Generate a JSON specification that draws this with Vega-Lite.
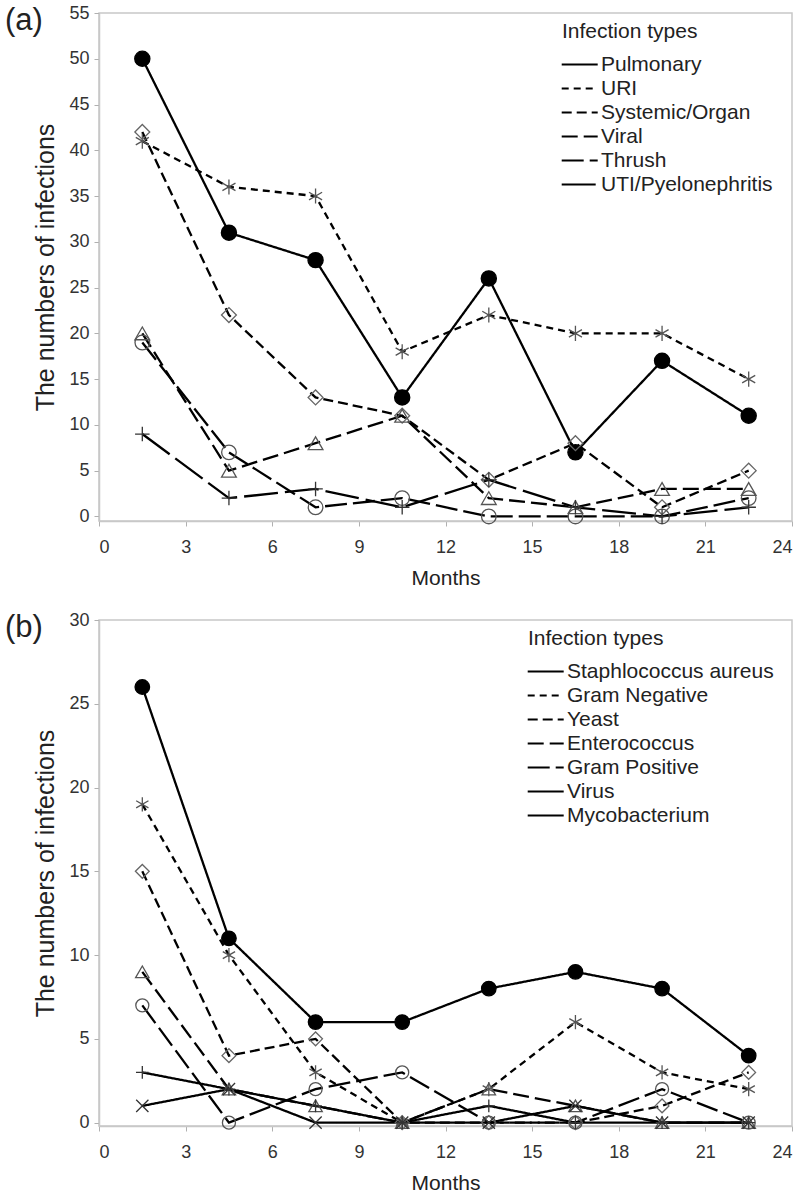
{
  "$schema": "https://vega.github.io/schema/vega-lite/v6.json",
  "background": "white",
  "padding": {"left": 4, "top": 3, "right": 10, "bottom": 4},
  "spacing": 21,
  "resolve": {
    "scale": {"shape": "independent", "size": "independent", "fill": "independent", "stroke": "independent", "strokeDash": "independent", "x": "independent", "y": "independent"},
    "legend": {"strokeDash": "independent", "shape": "independent", "size": "independent", "fill": "independent", "stroke": "independent"}
  },
  "config": {
    "font": "Liberation Sans",
    "view": {"stroke": "#c8c8c8", "strokeWidth": 1.5},
    "axis": {
      "grid": false,
      "domainColor": "#c8c8c8",
      "domainWidth": 1.5,
      "tickColor": "#b0b0b0",
      "tickSize": 5,
      "labelFontSize": 18,
      "labelColor": "#333",
      "labelPadding": 5,
      "titleFontSize": 25,
      "titleFontWeight": "normal",
      "titleColor": "#222"
    },
    "axisX": {"titlePadding": 11, "labelPadding": 12, "titleFontSize": 21},
    "axisY": {"titlePadding": 10},
    "legend": {
      "orient": "none",
      "legendY": 8,
      "titleFontSize": 21,
      "titleFontWeight": "normal",
      "titleColor": "#222",
      "titlePadding": 12,
      "labelFontSize": 21,
      "labelColor": "#222",
      "labelOffset": 18,
      "labelLimit": 400,
      "symbolType": "M-1.8,0L4.2,0",
      "symbolSize": 144,
      "symbolStrokeWidth": 2.2,
      "symbolStrokeColor": "black",
      "symbolFillColor": "transparent",
      "rowPadding": 2
    },
    "title": {"fontSize": 31, "fontWeight": "normal", "color": "#222", "anchor": "start", "frame": "bounds"}
  },
  "datasets": {
    "a": [
      {"series": "Pulmonary", "month": 1.5, "n": 50}, {"series": "Pulmonary", "month": 4.5, "n": 31}, {"series": "Pulmonary", "month": 7.5, "n": 28}, {"series": "Pulmonary", "month": 10.5, "n": 13}, {"series": "Pulmonary", "month": 13.5, "n": 26}, {"series": "Pulmonary", "month": 16.5, "n": 7}, {"series": "Pulmonary", "month": 19.5, "n": 17}, {"series": "Pulmonary", "month": 22.5, "n": 11},
      {"series": "URI", "month": 1.5, "n": 41}, {"series": "URI", "month": 4.5, "n": 36}, {"series": "URI", "month": 7.5, "n": 35}, {"series": "URI", "month": 10.5, "n": 18}, {"series": "URI", "month": 13.5, "n": 22}, {"series": "URI", "month": 16.5, "n": 20}, {"series": "URI", "month": 19.5, "n": 20}, {"series": "URI", "month": 22.5, "n": 15},
      {"series": "Systemic/Organ", "month": 1.5, "n": 42}, {"series": "Systemic/Organ", "month": 4.5, "n": 22}, {"series": "Systemic/Organ", "month": 7.5, "n": 13}, {"series": "Systemic/Organ", "month": 10.5, "n": 11}, {"series": "Systemic/Organ", "month": 13.5, "n": 4}, {"series": "Systemic/Organ", "month": 16.5, "n": 8}, {"series": "Systemic/Organ", "month": 19.5, "n": 1}, {"series": "Systemic/Organ", "month": 22.5, "n": 5},
      {"series": "Viral", "month": 1.5, "n": 20}, {"series": "Viral", "month": 4.5, "n": 5}, {"series": "Viral", "month": 7.5, "n": 8}, {"series": "Viral", "month": 10.5, "n": 11}, {"series": "Viral", "month": 13.5, "n": 2}, {"series": "Viral", "month": 16.5, "n": 1}, {"series": "Viral", "month": 19.5, "n": 3}, {"series": "Viral", "month": 22.5, "n": 3},
      {"series": "Thrush", "month": 1.5, "n": 19}, {"series": "Thrush", "month": 4.5, "n": 7}, {"series": "Thrush", "month": 7.5, "n": 1}, {"series": "Thrush", "month": 10.5, "n": 2}, {"series": "Thrush", "month": 13.5, "n": 0}, {"series": "Thrush", "month": 16.5, "n": 0}, {"series": "Thrush", "month": 19.5, "n": 0}, {"series": "Thrush", "month": 22.5, "n": 2},
      {"series": "UTI/Pyelonephritis", "month": 1.5, "n": 9}, {"series": "UTI/Pyelonephritis", "month": 4.5, "n": 2}, {"series": "UTI/Pyelonephritis", "month": 7.5, "n": 3}, {"series": "UTI/Pyelonephritis", "month": 10.5, "n": 1}, {"series": "UTI/Pyelonephritis", "month": 13.5, "n": 4}, {"series": "UTI/Pyelonephritis", "month": 16.5, "n": 1}, {"series": "UTI/Pyelonephritis", "month": 19.5, "n": 0}, {"series": "UTI/Pyelonephritis", "month": 22.5, "n": 1}
    ],
    "b": [
      {"series": "Staphlococcus aureus", "month": 1.5, "n": 26}, {"series": "Staphlococcus aureus", "month": 4.5, "n": 11}, {"series": "Staphlococcus aureus", "month": 7.5, "n": 6}, {"series": "Staphlococcus aureus", "month": 10.5, "n": 6}, {"series": "Staphlococcus aureus", "month": 13.5, "n": 8}, {"series": "Staphlococcus aureus", "month": 16.5, "n": 9}, {"series": "Staphlococcus aureus", "month": 19.5, "n": 8}, {"series": "Staphlococcus aureus", "month": 22.5, "n": 4},
      {"series": "Gram Negative", "month": 1.5, "n": 19}, {"series": "Gram Negative", "month": 4.5, "n": 10}, {"series": "Gram Negative", "month": 7.5, "n": 3}, {"series": "Gram Negative", "month": 10.5, "n": 0}, {"series": "Gram Negative", "month": 13.5, "n": 2}, {"series": "Gram Negative", "month": 16.5, "n": 6}, {"series": "Gram Negative", "month": 19.5, "n": 3}, {"series": "Gram Negative", "month": 22.5, "n": 2},
      {"series": "Yeast", "month": 1.5, "n": 15}, {"series": "Yeast", "month": 4.5, "n": 4}, {"series": "Yeast", "month": 7.5, "n": 5}, {"series": "Yeast", "month": 10.5, "n": 0}, {"series": "Yeast", "month": 13.5, "n": 0}, {"series": "Yeast", "month": 16.5, "n": 0}, {"series": "Yeast", "month": 19.5, "n": 1}, {"series": "Yeast", "month": 22.5, "n": 3},
      {"series": "Enterococcus", "month": 1.5, "n": 9}, {"series": "Enterococcus", "month": 4.5, "n": 2}, {"series": "Enterococcus", "month": 7.5, "n": 1}, {"series": "Enterococcus", "month": 10.5, "n": 0}, {"series": "Enterococcus", "month": 13.5, "n": 2}, {"series": "Enterococcus", "month": 16.5, "n": 1}, {"series": "Enterococcus", "month": 19.5, "n": 0}, {"series": "Enterococcus", "month": 22.5, "n": 0},
      {"series": "Gram Positive", "month": 1.5, "n": 7}, {"series": "Gram Positive", "month": 4.5, "n": 0}, {"series": "Gram Positive", "month": 7.5, "n": 2}, {"series": "Gram Positive", "month": 10.5, "n": 3}, {"series": "Gram Positive", "month": 13.5, "n": 0}, {"series": "Gram Positive", "month": 16.5, "n": 0}, {"series": "Gram Positive", "month": 19.5, "n": 2}, {"series": "Gram Positive", "month": 22.5, "n": 0},
      {"series": "Virus", "month": 1.5, "n": 3}, {"series": "Virus", "month": 4.5, "n": 2}, {"series": "Virus", "month": 7.5, "n": 1}, {"series": "Virus", "month": 10.5, "n": 0}, {"series": "Virus", "month": 13.5, "n": 1}, {"series": "Virus", "month": 16.5, "n": 0}, {"series": "Virus", "month": 19.5, "n": 0}, {"series": "Virus", "month": 22.5, "n": 0},
      {"series": "Mycobacterium", "month": 1.5, "n": 1}, {"series": "Mycobacterium", "month": 4.5, "n": 2}, {"series": "Mycobacterium", "month": 7.5, "n": 0}, {"series": "Mycobacterium", "month": 10.5, "n": 0}, {"series": "Mycobacterium", "month": 13.5, "n": 0}, {"series": "Mycobacterium", "month": 16.5, "n": 1}, {"series": "Mycobacterium", "month": 19.5, "n": 0}, {"series": "Mycobacterium", "month": 22.5, "n": 0}
    ]
  },
  "vconcat": [
    {
      "width": 693,
      "height": 508,
      "data": {"name": "a"},
      "title": {"text": "(a)", "dx": -29, "dy": 37},
      "encoding": {
        "x": {"field": "month", "type": "quantitative", "scale": {"domain": [0, 24], "nice": false}, "axis": {"values": [0, 3, 6, 9, 12, 15, 18, 21, 24], "title": "Months"}},
        "y": {"field": "n", "type": "quantitative", "scale": {"domain": [-0.5, 55], "nice": false, "zero": false}, "axis": {"values": [0, 5, 10, 15, 20, 25, 30, 35, 40, 45, 50, 55], "title": "The numbers of infections"}}
      },
      "layer": [
        {
          "mark": {"type": "line", "color": "black", "strokeWidth": 2.3},
          "encoding": {
            "strokeDash": {"field": "series", "type": "nominal", "title": "Infection types",
              "legend": {"legendX": 463},
              "scale": {"domain": ["Pulmonary", "URI", "Systemic/Organ", "Viral", "Thrush", "UTI/Pyelonephritis"],
                        "range": [[1, 0], [7, 5], [10, 5], [16, 6], [22, 6], [34, 7]]}}
          }
        },
        {
          "mark": {"type": "point", "strokeWidth": 1.3, "opacity": 1},
          "encoding": {
            "shape": {"field": "series", "type": "nominal", "legend": null,
              "scale": {"domain": ["UTI/Pyelonephritis", "Thrush", "Viral", "Systemic/Organ", "URI", "Pulmonary"],
                        "range": ["M-1,0L1,0M0,-1L0,1", "circle", "triangle-up", "diamond", "M0,-1L0,1M-0.87,-0.5L0.87,0.5M-0.87,0.5L0.87,-0.5", "circle"]}},
            "size": {"field": "series", "type": "nominal", "legend": null,
              "scale": {"domain": ["UTI/Pyelonephritis", "Thrush", "Viral", "Systemic/Organ", "URI", "Pulmonary"],
                        "range": [210, 230, 180, 160, 210, 160]}},
            "fill": {"field": "series", "type": "nominal", "legend": null,
              "scale": {"domain": ["UTI/Pyelonephritis", "Thrush", "Viral", "Systemic/Organ", "URI", "Pulmonary"],
                        "range": ["transparent", "transparent", "transparent", "transparent", "transparent", "#000000"]}},
            "stroke": {"field": "series", "type": "nominal", "legend": null,
              "scale": {"domain": ["UTI/Pyelonephritis", "Thrush", "Viral", "Systemic/Organ", "URI", "Pulmonary"],
                        "range": ["#333333", "#555555", "#555555", "#666666", "#555555", "#000000"]}}
          }
        }
      ]
    },
    {
      "width": 693,
      "height": 506,
      "data": {"name": "b"},
      "title": {"text": "(b)", "dx": -29, "dy": 37},
      "encoding": {
        "x": {"field": "month", "type": "quantitative", "scale": {"domain": [0, 24], "nice": false}, "axis": {"values": [0, 3, 6, 9, 12, 15, 18, 21, 24], "title": "Months"}},
        "y": {"field": "n", "type": "quantitative", "scale": {"domain": [-0.2, 30], "nice": false, "zero": false}, "axis": {"values": [0, 5, 10, 15, 20, 25, 30], "title": "The numbers of infections"}}
      },
      "layer": [
        {
          "mark": {"type": "line", "color": "black", "strokeWidth": 2.3},
          "encoding": {
            "strokeDash": {"field": "series", "type": "nominal", "title": "Infection types",
              "legend": {"legendX": 429},
              "scale": {"domain": ["Staphlococcus aureus", "Gram Negative", "Yeast", "Enterococcus", "Gram Positive", "Virus", "Mycobacterium"],
                        "range": [[1, 0], [7, 5], [10, 5], [16, 6], [22, 6], [1, 0], [1, 0]]}}
          }
        },
        {
          "mark": {"type": "point", "strokeWidth": 1.3, "opacity": 1},
          "encoding": {
            "shape": {"field": "series", "type": "nominal", "legend": null,
              "scale": {"domain": ["Mycobacterium", "Virus", "Gram Positive", "Enterococcus", "Yeast", "Gram Negative", "Staphlococcus aureus"],
                        "range": ["M-1,-1L1,1M-1,1L1,-1", "M-1,0L1,0M0,-1L0,1", "circle", "triangle-up", "diamond", "M0,-1L0,1M-0.87,-0.5L0.87,0.5M-0.87,0.5L0.87,-0.5", "circle"]}},
            "size": {"field": "series", "type": "nominal", "legend": null,
              "scale": {"domain": ["Mycobacterium", "Virus", "Gram Positive", "Enterococcus", "Yeast", "Gram Negative", "Staphlococcus aureus"],
                        "range": [150, 210, 230, 180, 160, 210, 160]}},
            "fill": {"field": "series", "type": "nominal", "legend": null,
              "scale": {"domain": ["Mycobacterium", "Virus", "Gram Positive", "Enterococcus", "Yeast", "Gram Negative", "Staphlococcus aureus"],
                        "range": ["transparent", "transparent", "transparent", "transparent", "transparent", "transparent", "#000000"]}},
            "stroke": {"field": "series", "type": "nominal", "legend": null,
              "scale": {"domain": ["Mycobacterium", "Virus", "Gram Positive", "Enterococcus", "Yeast", "Gram Negative", "Staphlococcus aureus"],
                        "range": ["#333333", "#333333", "#555555", "#555555", "#666666", "#555555", "#000000"]}}
          }
        }
      ]
    }
  ]
}
